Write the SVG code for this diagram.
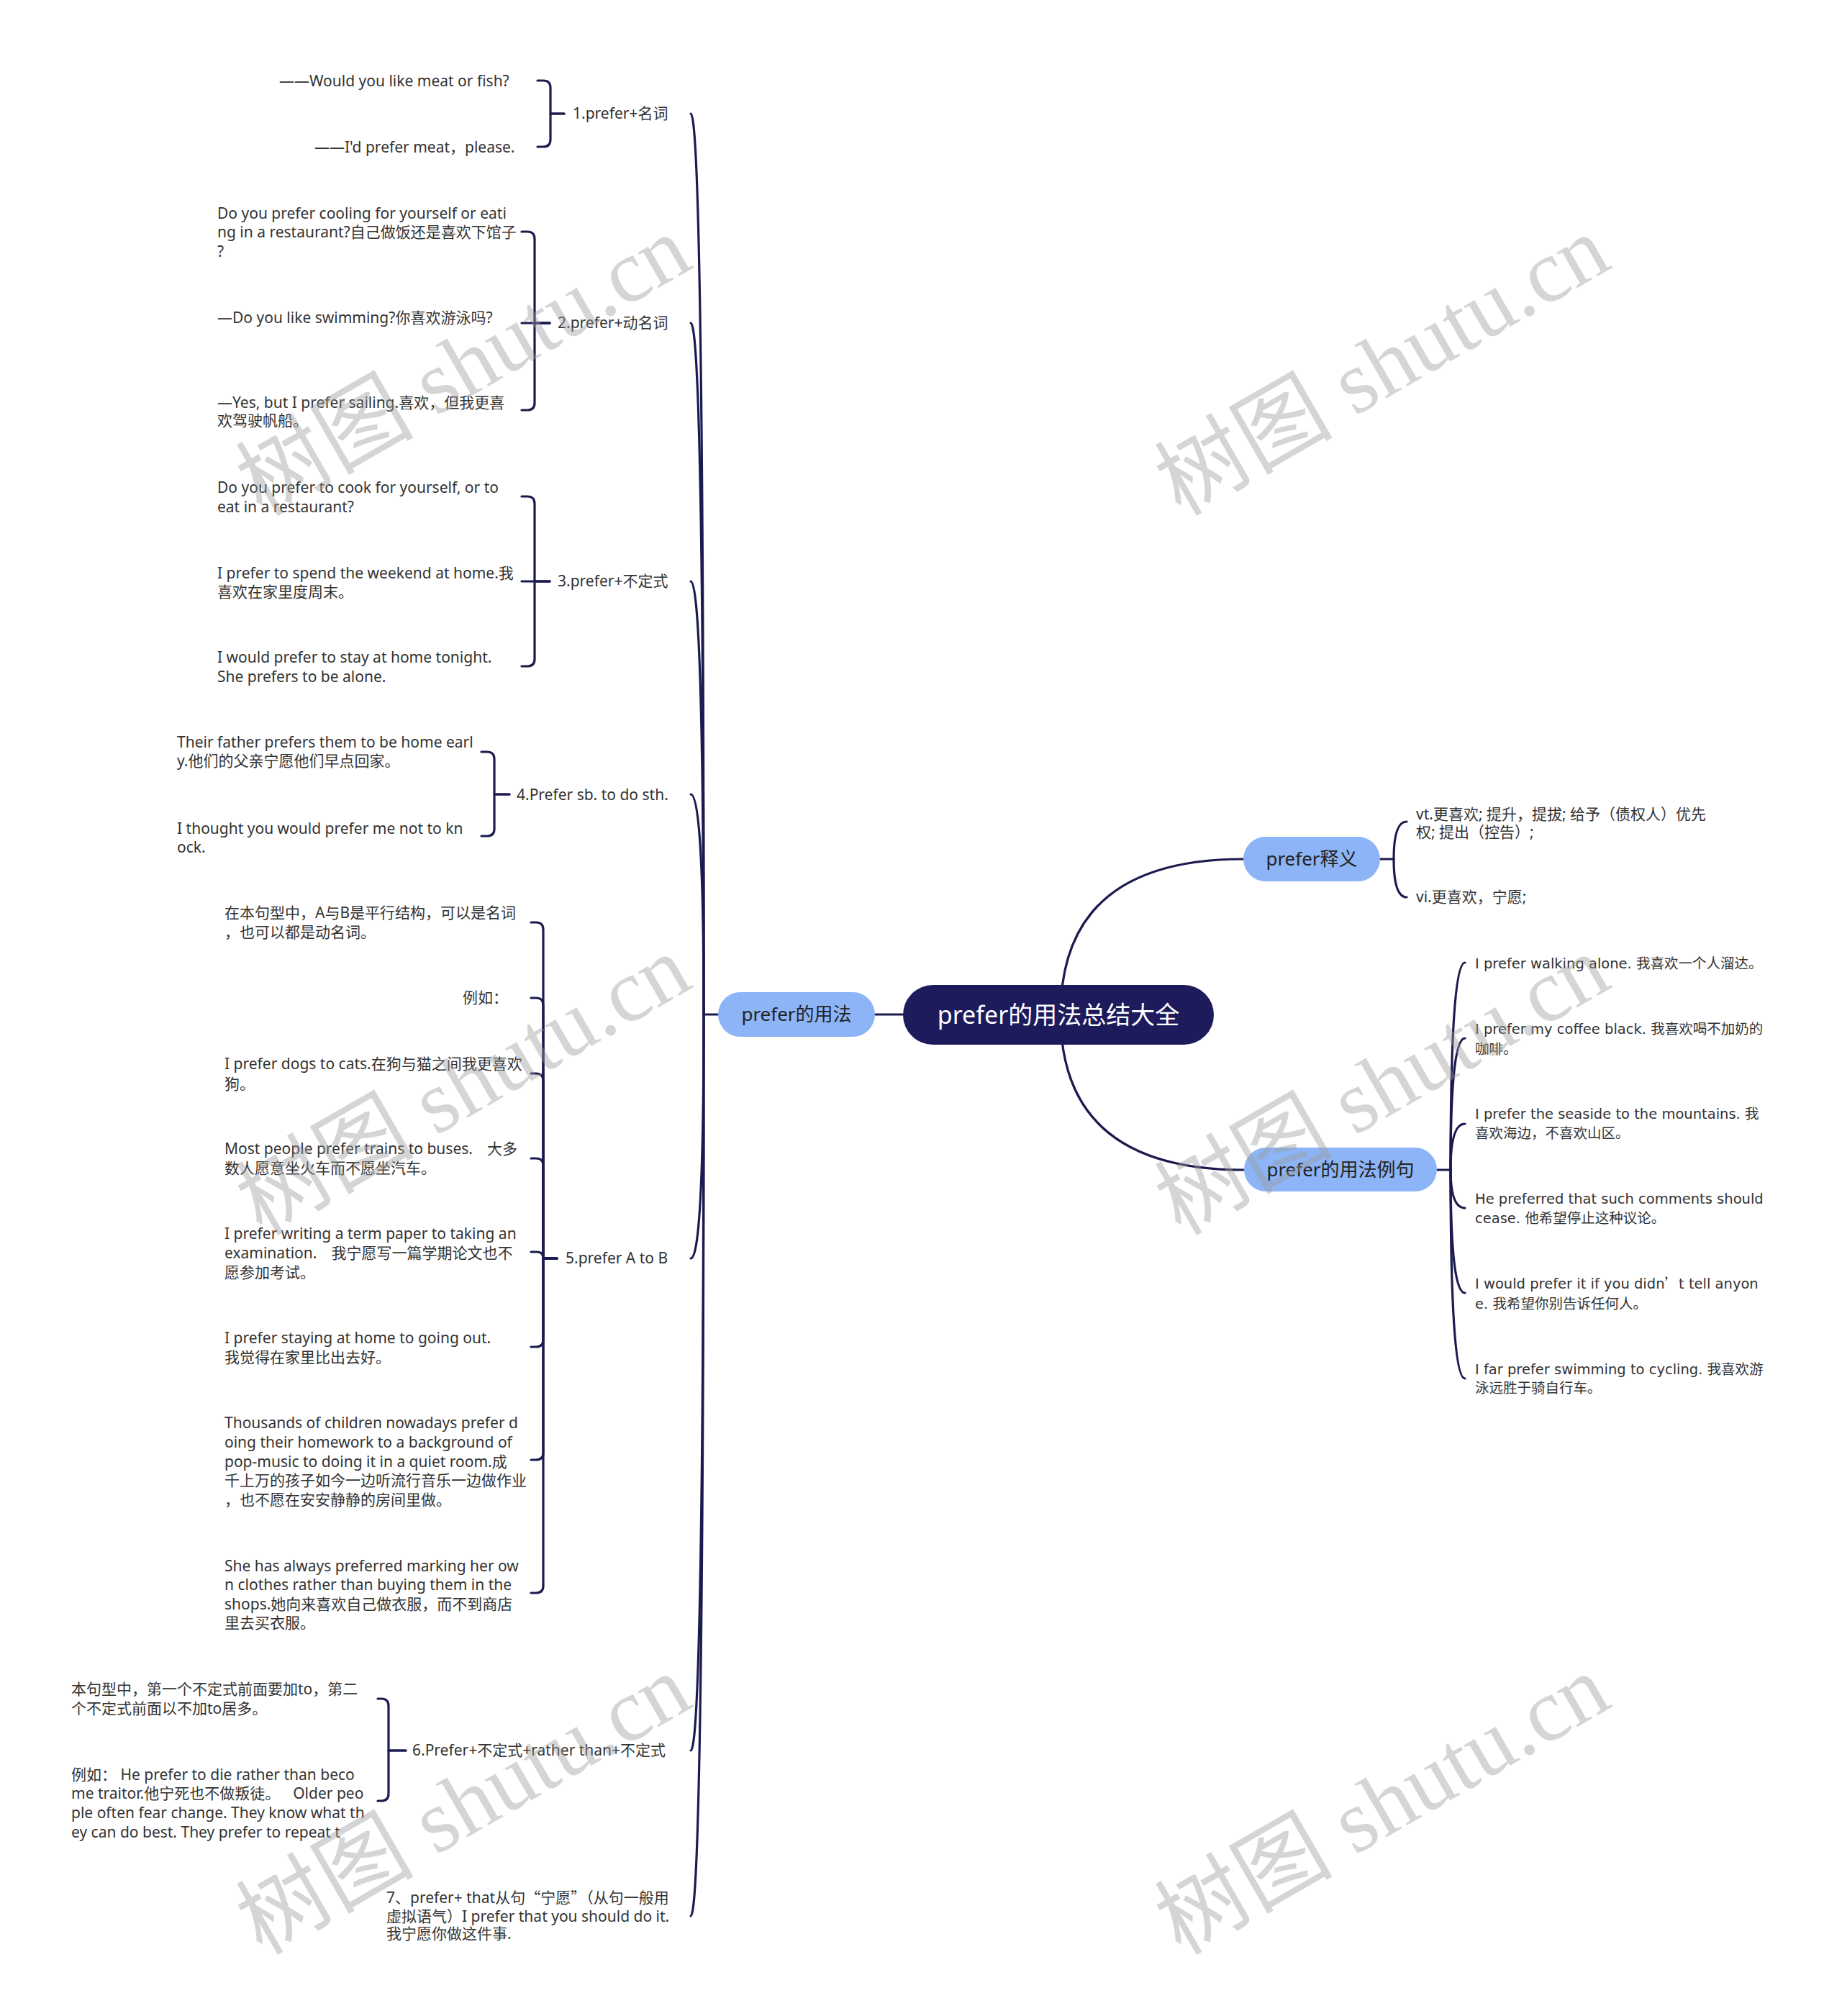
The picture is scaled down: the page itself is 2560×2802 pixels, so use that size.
<svg xmlns="http://www.w3.org/2000/svg" width="2560" height="2802" viewBox="0 0 2560 2802">
<style>
.ln{fill:none;stroke:#1c1b50;stroke-width:3.2;stroke-linecap:round;stroke-linejoin:round}
.t{font-family:"Noto Sans","Noto Sans CJK SC",sans-serif;font-size:21px;fill:#333}
.r{font-family:"DejaVu Sans","Noto Sans CJK SC",sans-serif;font-size:19.5px;fill:#333}
.cjk{font-family:"Noto Sans CJK SC",sans-serif}
.main{fill:#8cb4f6}
.mt{font-family:"Noto Sans","Noto Sans CJK SC",sans-serif;font-size:26px;fill:#222;text-anchor:middle}
.wm{font-family:"Liberation Serif","Noto Sans CJK SC",serif;font-size:124px;fill:#9a9a9a;fill-opacity:0.42;text-anchor:middle}
</style>
<rect width="2560" height="2802" fill="#ffffff"/>
<g id="connectors">
<path class="ln" d="M1474,1410 Q1474,1194 1728,1194"/>
<path class="ln" d="M1474,1410 Q1474,1626 1729,1626"/>
<path class="ln" d="M1255,1410 H1216"/>
<path class="ln" d="M998,1410 H978"/>
<path class="ln" d="M978,1410 Q978,158 960,158"/>
<path class="ln" d="M978,1410 Q978,449 960,449"/>
<path class="ln" d="M978,1410 Q978,808 960,808"/>
<path class="ln" d="M978,1410 Q978,1104 960,1104"/>
<path class="ln" d="M978,1410 Q978,1749 960,1749"/>
<path class="ln" d="M978,1410 Q978,2433 960,2433"/>
<path class="ln" d="M978,1410 Q978,2663 960,2663"/>
<path class="ln" d="M784,158 H765 V122 Q765,112 755,112 H747"/>
<path class="ln" d="M784,158 H765 V194 Q765,204 755,204 H747"/>
<path class="ln" d="M764,449 H743 V332 Q743,322 733,322 H725"/>
<path class="ln" d="M764,449 H725"/>
<path class="ln" d="M764,449 H743 V560 Q743,570 733,570 H725"/>
<path class="ln" d="M764,808 H743 V700 Q743,690 733,690 H725"/>
<path class="ln" d="M764,808 H725"/>
<path class="ln" d="M764,808 H743 V916 Q743,926 733,926 H725"/>
<path class="ln" d="M708,1104 H687 V1055 Q687,1045 677,1045 H669"/>
<path class="ln" d="M708,1104 H687 V1152 Q687,1162 677,1162 H669"/>
<path class="ln" d="M774,1749 H755 V1292 Q755,1282 745,1282 H738"/>
<path class="ln" d="M774,1749 H755 V1397 Q755,1387 745,1387 H738"/>
<path class="ln" d="M774,1749 H755 V1502 Q755,1492 745,1492 H738"/>
<path class="ln" d="M774,1749 H755 V1620 Q755,1610 745,1610 H738"/>
<path class="ln" d="M774,1749 H755 Q755,1740 746,1740 H738"/>
<path class="ln" d="M774,1749 H755 V1862 Q755,1872 745,1872 H738"/>
<path class="ln" d="M774,1749 H755 V2019 Q755,2029 745,2029 H738"/>
<path class="ln" d="M774,1749 H755 V2204 Q755,2214 745,2214 H738"/>
<path class="ln" d="M564,2433 H540 V2371 Q540,2361 530,2361 H525"/>
<path class="ln" d="M564,2433 H540 V2493 Q540,2503 530,2503 H525"/>
<path class="ln" d="M1918,1194 H1937"/>
<path class="ln" d="M1937,1194 Q1937,1142 1955,1142"/>
<path class="ln" d="M1937,1194 Q1937,1247 1955,1247"/>
<path class="ln" d="M1997,1626 H2016"/>
<path class="ln" d="M2016,1626 Q2016,1338 2036,1338"/>
<path class="ln" d="M2016,1626 Q2016,1443 2036,1443"/>
<path class="ln" d="M2016,1626 Q2016,1562 2036,1562"/>
<path class="ln" d="M2016,1626 Q2016,1679 2036,1679"/>
<path class="ln" d="M2016,1626 Q2016,1797 2036,1797"/>
<path class="ln" d="M2016,1626 Q2016,1916 2036,1916"/>
</g>
<g id="root">
<rect x="1255" y="1369" width="432" height="83" rx="41.5" fill="#1d1b5b"/>
<text x="1471" y="1423" font-family="Noto Sans, Noto Sans CJK SC, sans-serif" font-size="34" fill="#ffffff" text-anchor="middle">prefer的用法总结大全</text>
</g>
<g id="n-usage">
<rect class="main" x="998" y="1379" width="218" height="62" rx="31"/>
<text class="mt" x="1107" y="1419">prefer的用法</text>
</g>
<g id="n-meaning">
<rect class="main" x="1728" y="1163" width="190" height="62" rx="31"/>
<text class="mt" x="1823" y="1203">prefer释义</text>
</g>
<g id="n-examples">
<rect class="main" x="1729" y="1595" width="268" height="61" rx="30.5"/>
<text class="mt" x="1863" y="1635">prefer的用法例句</text>
</g>
<g id="n1">
<text class="t" x="796" y="165">1.prefer+名词</text>
</g>
<g id="n1a"><text class="t" x="388" y="120">——Would you like meat or fish?</text></g>
<g id="n1b"><text class="t" x="437" y="212">——I'd prefer meat，please.</text></g>
<g id="n2"><text class="t" x="775" y="456">2.prefer+动名词</text></g>
<g id="n2a"><text class="t" x="302"><tspan x="302" y="304">Do you prefer cooling for yourself or eati</tspan><tspan x="302" y="330">ng in a restaurant?自己做饭还是喜欢下馆子</tspan><tspan x="302" y="357">?</tspan></text></g>
<g id="n2b"><text class="t" x="302" y="449">—Do you like swimming?你喜欢游泳吗?</text></g>
<g id="n2c"><text class="t" x="302"><tspan x="302" y="567">—Yes, but I prefer sailing.喜欢，但我更喜</tspan><tspan x="302" y="592">欢驾驶帆船。</tspan></text></g>
<g id="n3"><text class="t" x="775" y="815">3.prefer+不定式</text></g>
<g id="n3a"><text class="t"><tspan x="302" y="685">Do you prefer to cook for yourself, or to</tspan><tspan x="302" y="712">eat in a restaurant?</tspan></text></g>
<g id="n3b"><text class="t"><tspan x="302" y="804">I prefer to spend the weekend at home.我</tspan><tspan x="302" y="830">喜欢在家里度周末。</tspan></text></g>
<g id="n3c"><text class="t"><tspan x="302" y="921">I would prefer to stay at home tonight.</tspan><tspan x="302" y="948">She prefers to be alone.</tspan></text></g>
<g id="n4"><text class="t" x="718" y="1112">4.Prefer sb. to do sth.</text></g>
<g id="n4a"><text class="t"><tspan x="246" y="1039">Their father prefers them to be home earl</tspan><tspan x="246" y="1065">y.他们的父亲宁愿他们早点回家。</tspan></text></g>
<g id="n4b"><text class="t"><tspan x="246" y="1159">I thought you would prefer me not to kn</tspan><tspan x="246" y="1185">ock.</tspan></text></g>
<g id="n5"><text class="t" x="786" y="1756">5.prefer A to B</text></g>
<g id="n5a"><text class="t"><tspan x="312" y="1276">在本句型中，A与B是平行结构，可以是名词</tspan><tspan x="312" y="1303">，也可以都是动名词。</tspan></text></g>
<g id="n5b"><text class="t" x="643" y="1394">例如：</text></g>
<g id="n5c"><text class="t"><tspan x="312" y="1486">I prefer dogs to cats.在狗与猫之间我更喜欢</tspan><tspan x="312" y="1514">狗。</tspan></text></g>
<g id="n5d"><text class="t"><tspan x="312" y="1604">Most people prefer trains to buses.</tspan><tspan dx="20">大多</tspan><tspan x="312" y="1631">数人愿意坐火车而不愿坐汽车。</tspan></text></g>
<g id="n5e"><text class="t"><tspan x="312" y="1722">I prefer writing a term paper to taking an</tspan><tspan x="312" y="1749">examination.</tspan><tspan dx="20">我宁愿写一篇学期论文也不</tspan><tspan x="312" y="1776">愿参加考试。</tspan></text></g>
<g id="n5f"><text class="t"><tspan x="312" y="1867">I prefer staying at home to going out.</tspan><tspan x="312" y="1894">我觉得在家里比出去好。</tspan></text></g>
<g id="n5g"><text class="t"><tspan x="312" y="1985">Thousands of children nowadays prefer d</tspan><tspan x="312" y="2012">oing their homework to a background of</tspan><tspan x="312" y="2039">pop-music to doing it in a quiet room.成</tspan><tspan x="312" y="2065">千上万的孩子如今一边听流行音乐一边做作业</tspan><tspan x="312" y="2092">，也不愿在安安静静的房间里做。</tspan></text></g>
<g id="n5h"><text class="t"><tspan x="312" y="2184">She has always preferred marking her ow</tspan><tspan x="312" y="2210">n clothes rather than buying them in the</tspan><tspan x="312" y="2237">shops.她向来喜欢自己做衣服，而不到商店</tspan><tspan x="312" y="2263">里去买衣服。</tspan></text></g>
<g id="n6"><text class="t" x="573" y="2440">6.Prefer+不定式+rather than+不定式</text></g>
<g id="n6a"><text class="t"><tspan x="99" y="2355">本句型中，第一个不定式前面要加to，第二</tspan><tspan x="99" y="2382">个不定式前面以不加to居多。</tspan></text></g>
<g id="n6b"><text class="t"><tspan x="99" y="2474">例如：  He prefer to die rather than beco</tspan><tspan x="99" y="2500">me traitor.他宁死也不做叛徒。</tspan><tspan dx="18">Older peo</tspan><tspan x="99" y="2527">ple often fear change. They know what th</tspan><tspan x="99" y="2554">ey can do best. They prefer to repeat t</tspan></text></g>
<g id="n7"><text class="t"><tspan x="537" y="2645">7、prefer+  that从句<tspan class="cjk">“</tspan>宁愿<tspan class="cjk">”</tspan>（从句一般用</tspan><tspan x="537" y="2671">虚拟语气）I prefer that you should do it.</tspan><tspan x="537" y="2695">我宁愿你做这件事.</tspan></text></g>
<g id="m1"><text class="t"><tspan x="1968" y="1139">vt.更喜欢; 提升，提拔; 给予（债权人）优先</tspan><tspan x="1968" y="1164">权; 提出（控告）;</tspan></text></g>
<g id="m2"><text class="t" x="1968" y="1254">vi.更喜欢，宁愿;</text></g>
<g id="e1"><text class="r" x="2050" y="1346">I prefer walking alone. 我喜欢一个人溜达。</text></g>
<g id="e2"><text class="r"><tspan x="2050" y="1437">I prefer my coffee black. 我喜欢喝不加奶的</tspan><tspan x="2050" y="1465">咖啡。</tspan></text></g>
<g id="e3"><text class="r"><tspan x="2050" y="1555">I prefer the seaside to the mountains. 我</tspan><tspan x="2050" y="1582">喜欢海边，不喜欢山区。</tspan></text></g>
<g id="e4"><text class="r"><tspan x="2050" y="1673">He preferred that such comments should</tspan><tspan x="2050" y="1700">cease. 他希望停止这种议论。</tspan></text></g>
<g id="e5"><text class="r"><tspan x="2050" y="1791">I would prefer it if you didn<tspan class="cjk">’</tspan>t tell anyon</tspan><tspan x="2050" y="1819">e. 我希望你别告诉任何人。</tspan></text></g>
<g id="e6"><text class="r"><tspan x="2050" y="1910">I far prefer swimming to cycling. 我喜欢游</tspan><tspan x="2050" y="1936">泳远胜于骑自行车。</tspan></text></g>
<g id="watermarks">
<text class="wm" transform="translate(645,510) rotate(-30)" x="0" y="40">树图 shutu.cn</text>
<text class="wm" transform="translate(1922,510) rotate(-30)" x="0" y="40">树图 shutu.cn</text>
<text class="wm" transform="translate(645,1510) rotate(-30)" x="0" y="40">树图 shutu.cn</text>
<text class="wm" transform="translate(1922,1510) rotate(-30)" x="0" y="40">树图 shutu.cn</text>
<text class="wm" transform="translate(645,2510) rotate(-30)" x="0" y="40">树图 shutu.cn</text>
<text class="wm" transform="translate(1922,2510) rotate(-30)" x="0" y="40">树图 shutu.cn</text>
</g>
</svg>
